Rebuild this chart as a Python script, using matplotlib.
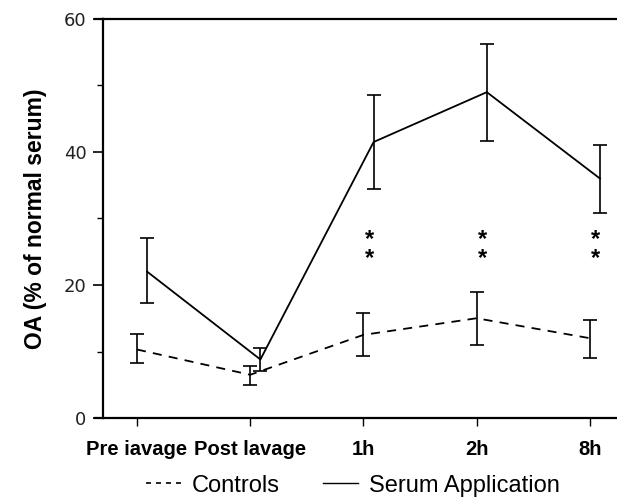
import matplotlib.pyplot as plt
import numpy as np
from matplotlib.lines import Line2D

plt.rcParams['font.family'] = ['Liberation Sans', 'DejaVu Sans']

labels = ["Pre iavage", "Post lavage", "1h", "2h", "8h"]
x = np.arange(len(labels))

controls = [10.3, 6.5, 12.5, 15.0, 12.0]
controls_lo = [8.2, 5.0, 9.3, 11.0, 9.0]
controls_hi = [12.6, 7.8, 15.8, 19.0, 14.8]

serum = [22.0, 8.8, 41.5, 49.0, 36.0]
serum_lo = [17.3, 7.0, 34.5, 41.7, 30.8]
serum_hi = [27.0, 10.5, 48.5, 56.3, 41.0]

sig_idx = [2, 3, 4]
star_mid = 25.4

serum_shift = 0.09

fig = plt.figure(figsize=(6.17, 5.0), dpi=100)
ax = fig.add_axes([0.167, 0.164, 0.833, 0.798])

c = np.array(controls)
ax.errorbar(x, c, yerr=[c - np.array(controls_lo), np.array(controls_hi) - c],
            color='black', lw=1.3, ls=(0, (5, 4)), capsize=5, elinewidth=1.2, capthick=1.2)
s = np.array(serum)
xs = x + serum_shift
ax.errorbar(xs, s, yerr=[s - np.array(serum_lo), np.array(serum_hi) - s],
            color='black', lw=1.3, capsize=5, elinewidth=1.2, capthick=1.2)

for i in sig_idx:
    ax.text(x[i] + 0.05, star_mid, "*\n*", ha='center', va='center',
            fontsize=17, fontweight='bold', linespacing=0.8)

ax.set_xlim(-0.30, 4.24)
ax.set_ylim(0, 60)
ax.set_yticks([0, 20, 40, 60])
ax.set_yticks([10, 30, 50], minor=True)
ax.set_xticks(x)
ax.set_xticklabels(labels, fontweight='bold', fontsize=14.5)
ax.tick_params(axis='y', which='major', direction='out', length=7, width=1.2, labelsize=13, pad=5)
ax.tick_params(axis='y', which='minor', direction='out', length=4, width=1.0)
ax.tick_params(axis='x', direction='out', length=6, width=1.0, pad=10)
for lab in ax.get_yticklabels():
    lab.set_family('DejaVu Sans')
    lab.set_color('#222222')
ax.spines['right'].set_visible(False)
for sp in ['left', 'bottom', 'top']:
    ax.spines[sp].set_linewidth(1.6)
# baseline pokes a little left of the y axis
ax.plot([-0.016, 0], [0, 0], transform=ax.transAxes, color='black', lw=1.6, clip_on=False)
ax.plot([-0.016, 0], [1, 1], transform=ax.transAxes, color='black', lw=1.6, clip_on=False)

ax.set_ylabel("OA (% of normal serum)", fontsize=16.5, fontweight='bold', labelpad=12)

handles = [Line2D([], [], color='black', lw=1.2, ls=(0, (3, 3))),
           Line2D([], [], color='black', lw=1.0)]
fig.legend(handles, ["Controls", "Serum Application"], loc='lower center',
           bbox_to_anchor=(0.572, -0.012), ncol=2, frameon=False, fontsize=17,
           handlelength=1.5, columnspacing=1.8, handletextpad=0.45, borderaxespad=0)

fig.savefig("out.png", dpi=100)
